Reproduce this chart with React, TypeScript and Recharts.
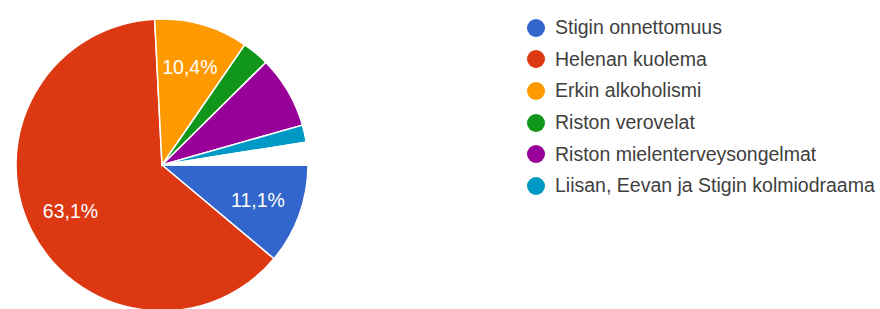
import { PieChart, Pie, Cell, Legend } from "recharts";

// reasons (last slice is the unlabelled white gap)
const NAMES = [
  "Stigin onnettomuus",
  "Helenan kuolema",
  "Erkin alkoholismi",
  "Riston verovelat",
  "Riston mielenterveysongelmat",
  "Liisan, Eevan ja Stigin kolmiodraama",
  "",
];
const SHARES = [11.1, 63.1, 10.4, 3.0, 8.0, 1.9, 2.5];
const COLORS = [
  "#3366cc",
  "#dc3912",
  "#ff9900",
  "#109618",
  "#990099",
  "#0099c6",
  "#ffffff",
];

const data = NAMES.map((name, i) => ({ name, value: SHARES[i] }));

if (typeof document !== "undefined") document.body.style.margin = "0";

const FONT = "'Liberation Sans', Arial, sans-serif";

const RADIAN = Math.PI / 180;

function renderLabel(props: any) {
  const { cx, cy, midAngle, outerRadius, percent } = props;
  if (percent < 0.1) return null;
  const r = outerRadius * 0.7;
  const x = cx + r * Math.cos(-midAngle * RADIAN);
  const y = cy + r * Math.sin(-midAngle * RADIAN);
  return (
    <text
      x={x}
      y={y}
      fill="#ffffff"
      fontSize={19.5}
      fontFamily={FONT}
      textAnchor="middle"
      dominantBaseline="central"
    >
      {(percent * 100).toFixed(1).replace(".", ",") + "%"}
    </text>
  );
}

function renderLegend() {
  return (
    <div>
      {NAMES.filter((n) => n !== "").map((name, i) => (
        <div
          key={name}
          style={{
            display: "flex",
            alignItems: "center",
            height: 31.6,
            fontFamily: FONT,
            fontSize: 19.5,
            color: "#404040",
            whiteSpace: "nowrap",
          }}
        >
          <span
            style={{
              display: "inline-block",
              width: 18,
              height: 18,
              borderRadius: 9,
              background: COLORS[i],
              marginRight: 10,
            }}
          />
          {name}
        </div>
      ))}
    </div>
  );
}

export default function App() {
  return (
    <PieChart
      width={880}
      height={309}
      margin={{ top: 0, right: 0, bottom: 0, left: 0 }}
    >
      <Pie
        data={data}
        dataKey="value"
        nameKey="name"
        cx={162}
        cy={165}
        outerRadius={146}
        startAngle={0}
        endAngle={-360}
        stroke="#ffffff"
        strokeWidth={1.5}
        label={renderLabel}
        labelLine={false}
        isAnimationActive={false}
      >
        {data.map((_, index) => (
          <Cell key={index} fill={COLORS[index]} />
        ))}
      </Pie>
      <Legend
        content={renderLegend}
        wrapperStyle={{ position: "absolute", left: 527, top: 12, width: 352 }}
      />
    </PieChart>
  );
}
